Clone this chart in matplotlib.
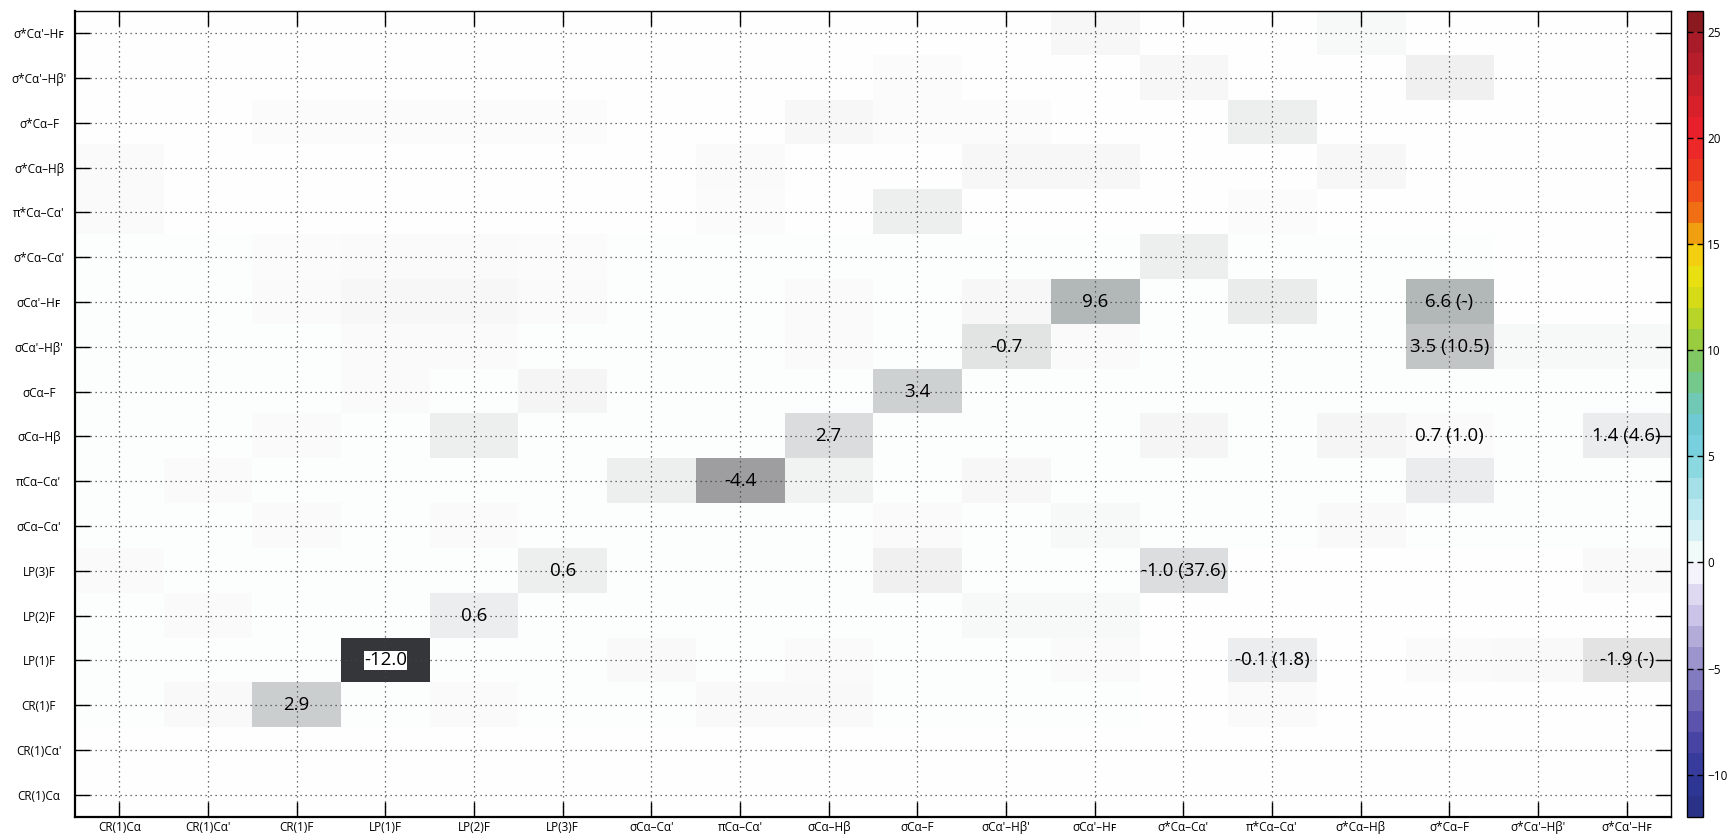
import numpy as np
import matplotlib
matplotlib.use('Agg')
import matplotlib.pyplot as plt
from matplotlib.colors import LinearSegmentedColormap, ListedColormap, Normalize
from matplotlib.cm import ScalarMappable

plt.rcParams['font.family'] = ['Open Sans', 'DejaVu Sans']

x_labels = ['CR(1)Cα', "CR(1)Cα'", 'CR(1)F', 'LP(1)F', 'LP(2)F', 'LP(3)F',
            "σCα–Cα'", "πCα–Cα'", 'σCα–Hβ', 'σCα–F', "σCα'–Hβ'", "σCα'–Hꜰ",
            "σ*Cα–Cα'", "π*Cα–Cα'", 'σ*Cα–Hβ', 'σ*Cα–F', "σ*Cα'–Hβ'", "σ*Cα'–Hꜰ"]
# rows listed from the top of the chart down
y_labels = x_labels[::-1]

# cell shade (colour value) per row, top row first
shade = [
    [0, 0, 0, 0, 0, 0, 0, 0, 0, 0, 0, 0.5, 0, 0, 0.4, 0, 0, 0],
    [0, 0, 0, 0, 0, 0, 0, 0, 0, 0.2, 0, 0, 0.5, 0, 0, 0.9, 0, 0],
    [0, 0, 0.2, 0.2, 0.2, 0.2, 0, 0, 0.5, 0.2, 0.2, 0, 0, 1.0, 0, 0, 0, 0],
    [0.3, 0, 0, 0, 0, 0, 0, 0.3, 0, 0, 0.5, 0.5, 0, 0, 0.5, 0, 0, 0],
    [0.3, 0, 0, 0, 0, 0, 0, 0.2, 0, 1.0, 0, 0, 0, 0.2, 0, 0, 0, 0],
    [0.15, 0.15, 0.2, 0.3, 0.3, 0.2, 0.15, 0.15, 0.15, 0.15, 0.15, 0.15, 1.0, 0.15, 0.15, 0.15, 0, 0],
    [0.15, 0.15, 0.3, 0.5, 0.5, 0.3, 0.15, 0.15, 0.3, 0.15, 0.5, 5.6, 0.15, 1.3, 0.15, 5.6, 0, 0],
    [0.15, 0.15, 0.15, 0.3, 0.3, 0.15, 0.15, 0.15, 0.3, 0.15, 2.0, 0.3, 0.15, 0.15, 0.15, 4.3, 0.4, 0.4],
    [0.15, 0.15, 0.15, 0.3, 0.15, 0.6, 0.15, 0.15, 0.15, 3.4, 0.15, 0.15, 0.15, 0.15, 0.15, 0.15, 0.15, 0.15],
    [0.15, 0.15, 0.3, 0.15, 1.0, 0.15, 0.15, 0.15, 2.5, 0.15, 0.15, 0.15, 0.6, 0.15, 0.6, 0.3, 0.15, 1.2],
    [0.15, 0.3, 0.15, 0.15, 0.15, 0.15, 1.0, -4.4, 0.8, 0.15, 0.5, 0.15, 0.15, 0.15, 0.15, 1.2, 0.15, 0.15],
    [0.15, 0.15, 0.3, 0.15, 0.3, 0.15, 0.15, 0.15, 0.15, 0.3, 0.15, 0.4, 0.15, 0.15, -0.3, 0.15, 0.15, 0.15],
    [0.3, 0.15, 0.15, 0.15, 0.15, 1.0, 0.15, 0.15, 0.15, 0.9, 0.15, 0.15, 2.4, 0, 0, 0, 0, -0.3],
    [0.15, 0.3, 0.15, 0.15, 1.1, 0.15, 0.15, 0.15, 0.15, 0.15, 0.4, 0.4, 0, 0, 0, 0, 0, 0],
    [0.15, 0.15, 0.15, -12.0, 0.15, 0.15, -0.3, 0.15, -0.2, 0.15, 0.15, 0.3, 0, 1.1, 0, -0.2, -0.3, -1.0],
    [0.15, -0.3, 3.6, 0.15, 0.3, 0.15, 0.15, -0.3, -0.3, 0.15, 0.15, 0.15, 0, 0.3, 0, 0, 0, 0],
    [0, 0, 0, 0, 0, 0, 0, 0, 0, 0, 0, 0, 0, 0, 0, 0, 0, 0],
    [0, 0, 0, 0, 0, 0, 0, 0, 0, 0, 0, 0, 0, 0, 0, 0, 0, 0],
]

# printed values: row (from top), column, text
label_rows = [15, 14, 13, 12, 10, 9, 8, 7, 6, 6, 7, 9, 9, 12, 14, 14]
label_cols = [2, 3, 4, 5, 7, 8, 9, 10, 11, 15, 15, 15, 17, 12, 13, 17]
label_text = ['2.9', '-12.0', '0.6', '0.6', '-4.4', '2.7', '3.4', '-0.7', '9.6',
              '6.6 (-)', '3.5 (10.5)', '0.7 (1.0)', '1.4 (4.6)', '-1.0 (37.6)',
              '-0.1 (1.8)', '-1.9 (-)']

vmin, vmax = -12, 26
cbar_ticks = [-10, -5, 0, 5, 10, 15, 20, 25]

anchors = [(-12, '#283080'), (-11, '#2c3490'), (-10, '#303898'), (-9, '#4040a0'),
           (-8, '#5048a8'), (-7, '#6860b0'), (-6, '#7870b8'), (-5, '#9088c8'),
           (-4, '#a8a0d0'), (-3, '#c0b8e0'), (-2, '#d8d0f0'), (-1, '#e4e0f0'),
           (-0.5, '#f6f5fc'), (0, '#ffffff'), (0.5, '#f0faf8'), (1, '#e0f4f8'),
           (2, '#c8eef4'), (3, '#b0e4ec'), (4, '#98dce4'), (5, '#80d4dc'),
           (6, '#70cce0'), (7, '#70c8c8'), (8, '#70c8a0'), (9, '#78c878'),
           (10, '#88c850'), (11, '#a8d030'), (12, '#c8d820'), (13, '#e0e010'),
           (14, '#f0e010'), (15, '#f8c010'), (15.5, '#f0a010'), (16, '#f08010'),
           (17, '#f06018'), (18, '#f04020'), (19, '#e83020'), (20, '#f02030'),
           (21, '#e02028'), (23, '#c0202c'), (25, '#a01a28'), (26, '#7a1a1a')]
norm = Normalize(vmin=vmin, vmax=vmax)
base = LinearSegmentedColormap.from_list(
    'nbo', [(norm(v), c) for v, c in anchors], N=512)

# discrete colour bar, one band per unit
centers = np.arange(vmin + 0.5, vmax, 1.0)
bar_cmap = ListedColormap([base(norm(c)) for c in centers])

# cells are drawn in a nearly grey version of the same scale
rgb = base(np.linspace(0, 1, 512))[:, :3]
lum = rgb @ np.array([0.299, 0.587, 0.114])
cell_cmap = ListedColormap(lum[:, None] * 0.95 + rgb * 0.05)

fig = plt.figure(figsize=(17.33, 8.39), dpi=100)
ax = fig.add_axes([0.0433, 0.0262, 0.921, 0.9607])
ax.imshow(np.array(shade), cmap=cell_cmap, norm=norm, aspect='auto',
          interpolation='nearest')

for r, c, t in zip(label_rows, label_cols, label_text):
    kw = {}
    if t == '-12.0':
        kw['bbox'] = dict(facecolor='white', edgecolor='none', pad=0.3)
    ax.text(c, r, t, ha='center', va='center', fontsize=13.5, color='black', **kw)

ax.set_xticks(range(len(x_labels)))
ax.set_xticklabels(x_labels)
ax.set_yticks(range(len(y_labels)))
ax.set_yticklabels(y_labels, ha='center')
ax.set_xlim(-0.5, 17.5)
ax.set_ylim(17.5, -0.5)
ax.grid(True, color='#444444', linestyle=(0, (1, 3)), linewidth=0.9)
ax.tick_params(direction='in', length=11, width=1, top=True, right=True,
               labelsize=8.5, color='black')
ax.tick_params(axis='x', pad=3)
ax.tick_params(axis='y', pad=26)
for side in ['left', 'bottom']:
    ax.spines[side].set_linewidth(1.6)
for side in ['top', 'right']:
    ax.spines[side].set_linewidth(1.0)

cax = fig.add_axes([0.9735, 0.0262, 0.0092, 0.9607])
cb = fig.colorbar(ScalarMappable(norm=norm, cmap=bar_cmap), cax=cax, ticks=cbar_ticks)
cb.outline.set_linewidth(1.0)
cax.tick_params(direction='in', length=4, width=1, left=True, right=True,
                labelsize=8.5, pad=3)

fig.savefig('out.png', dpi=100)
